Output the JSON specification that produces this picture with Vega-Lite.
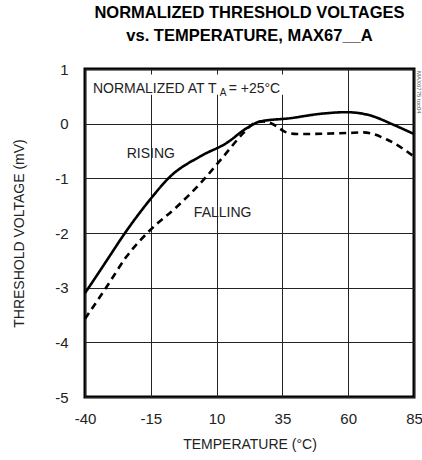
{
  "$schema": "https://vega.github.io/schema/vega-lite/v6.json",
  "width": 329,
  "height": 328,
  "autosize": {"type": "none"},
  "padding": {"left": 85, "top": 69, "right": 8, "bottom": 63},
  "background": "white",
  "config": {
    "font": "Liberation Sans",
    "view": {"stroke": "black", "strokeWidth": 3},
    "axis": {"labelFont": "Liberation Sans", "titleFont": "Liberation Sans", "labelColor": "#222", "titleColor": "#222"}
  },
  "title": {
    "text": ["NORMALIZED THRESHOLD VOLTAGES", "vs. TEMPERATURE, MAX67__A"],
    "font": "Liberation Sans",
    "fontSize": 16.5,
    "fontWeight": "bold",
    "lineHeight": 23,
    "anchor": "middle",
    "frame": "group",
    "offset": 18,
    "color": "black"
  },
  "datasets": {
    "curves": [
      {"temp": -40, "v": -3.1, "series": "RISING"},
      {"temp": -35, "v": -2.74, "series": "RISING"},
      {"temp": -31.7, "v": -2.5, "series": "RISING"},
      {"temp": -24.8, "v": -2.0, "series": "RISING"},
      {"temp": -15.3, "v": -1.39, "series": "RISING"},
      {"temp": -7.7, "v": -0.97, "series": "RISING"},
      {"temp": 3.7, "v": -0.6, "series": "RISING"},
      {"temp": 13.9, "v": -0.35, "series": "RISING"},
      {"temp": 21.5, "v": -0.08, "series": "RISING"},
      {"temp": 26.5, "v": 0.04, "series": "RISING"},
      {"temp": 38, "v": 0.1, "series": "RISING"},
      {"temp": 49.4, "v": 0.18, "series": "RISING"},
      {"temp": 59.5, "v": 0.21, "series": "RISING"},
      {"temp": 68.4, "v": 0.15, "series": "RISING"},
      {"temp": 77.2, "v": -0.02, "series": "RISING"},
      {"temp": 85, "v": -0.19, "series": "RISING"},
      {"temp": -40, "v": -3.57, "series": "FALLING"},
      {"temp": -31.7, "v": -2.98, "series": "FALLING"},
      {"temp": -24.2, "v": -2.43, "series": "FALLING"},
      {"temp": -15.3, "v": -1.95, "series": "FALLING"},
      {"temp": -5.1, "v": -1.52, "series": "FALLING"},
      {"temp": 5, "v": -1.03, "series": "FALLING"},
      {"temp": 12.6, "v": -0.6, "series": "FALLING"},
      {"temp": 20.2, "v": -0.17, "series": "FALLING"},
      {"temp": 24, "v": 0.0, "series": "FALLING"},
      {"temp": 27.8, "v": 0.04, "series": "FALLING"},
      {"temp": 30, "v": 0.02, "series": "FALLING"},
      {"temp": 32.9, "v": -0.05, "series": "FALLING"},
      {"temp": 36, "v": -0.15, "series": "FALLING"},
      {"temp": 40.5, "v": -0.19, "series": "FALLING"},
      {"temp": 53.2, "v": -0.18, "series": "FALLING"},
      {"temp": 60, "v": -0.17, "series": "FALLING"},
      {"temp": 65.8, "v": -0.16, "series": "FALLING"},
      {"temp": 74.7, "v": -0.29, "series": "FALLING"},
      {"temp": 85, "v": -0.6, "series": "FALLING"}
    ],
    "labels": [
      {"temp": -15, "v": -0.62, "label": "RISING"},
      {"temp": 12.3, "v": -1.7, "label": "FALLING"}
    ]
  },
  "layer": [
    {
      "data": {"values": [{"x1": -38, "x2": 36, "y1": 0.53, "y2": 0.9}]},
      "mark": {"type": "rect", "fill": "white"},
      "encoding": {
        "x": {"field": "x1", "type": "quantitative", "scale": {"domain": [-40, 85], "nice": false, "zero": false},
              "axis": {"values": [-40, -15, 10, 35, 60, 85], "labelExpr": "'' + datum.value", "labelFlush": false, "grid": true, "gridColor": "#222", "gridWidth": 1, "gridOpacity": 1, "domain": false, "ticks": false, "labelFontSize": 15, "labelPadding": 14, "title": "TEMPERATURE (°C)", "titleFontSize": 14, "titleFontWeight": "normal", "titlePadding": 11}},
        "x2": {"field": "x2"},
        "y": {"field": "y1", "type": "quantitative", "scale": {"domain": [-5, 1], "nice": false, "zero": false},
              "axis": {"values": [-5, -4, -3, -2, -1, 0, 1], "labelExpr": "'' + datum.value", "labelFlush": false, "grid": true, "gridColor": "#222", "gridWidth": 1, "gridOpacity": 1, "domain": false, "ticks": false, "labelFontSize": 15, "labelPadding": 17, "title": "THRESHOLD VOLTAGE (mV)", "titleFontSize": 14, "titleFontWeight": "normal", "titlePadding": 28}},
        "y2": {"field": "y2"}
      }
    },
    {
      "data": {"name": "curves"},
      "mark": {"type": "line", "color": "black", "strokeWidth": 2.6, "interpolate": "monotone"},
      "encoding": {
        "x": {"field": "temp", "type": "quantitative"},
        "y": {"field": "v", "type": "quantitative"},
        "detail": {"field": "series"},
        "strokeDash": {"field": "series", "type": "nominal", "scale": {"domain": ["RISING", "FALLING"], "range": [[1, 0], [7, 5]]}, "legend": null}
      }
    },
    {
      "data": {"name": "labels"},
      "mark": {"type": "text", "fontSize": 14, "color": "#222", "align": "center", "baseline": "alphabetic"},
      "encoding": {
        "x": {"field": "temp", "type": "quantitative"},
        "y": {"field": "v", "type": "quantitative"},
        "text": {"field": "label"}
      }
    },
    {
      "data": {"values": [{"temp": -37, "v": 0.57, "t": "NORMALIZED AT T"}, {"temp": 14.6, "v": 0.57, "t": "= +25°C"}]},
      "mark": {"type": "text", "fontSize": 14, "color": "#222", "align": "left", "baseline": "alphabetic"},
      "encoding": {
        "x": {"field": "temp", "type": "quantitative"},
        "y": {"field": "v", "type": "quantitative"},
        "text": {"field": "t"}
      }
    },
    {
      "data": {"values": [{"temp": 11.2, "v": 0.5, "t": "A"}]},
      "mark": {"type": "text", "fontSize": 10, "color": "#222", "align": "left", "baseline": "alphabetic"},
      "encoding": {
        "x": {"field": "temp", "type": "quantitative"},
        "y": {"field": "v", "type": "quantitative"},
        "text": {"field": "t"}
      }
    },
    {
      "data": {"values": [{"temp": 85, "v": 1, "t": "MAX6775 toc04"}]},
      "mark": {"type": "text", "fontSize": 6, "color": "#555", "align": "left", "baseline": "middle", "angle": 90, "dx": 2, "dy": -5},
      "encoding": {
        "x": {"field": "temp", "type": "quantitative"},
        "y": {"field": "v", "type": "quantitative"},
        "text": {"field": "t"}
      }
    }
  ]
}
